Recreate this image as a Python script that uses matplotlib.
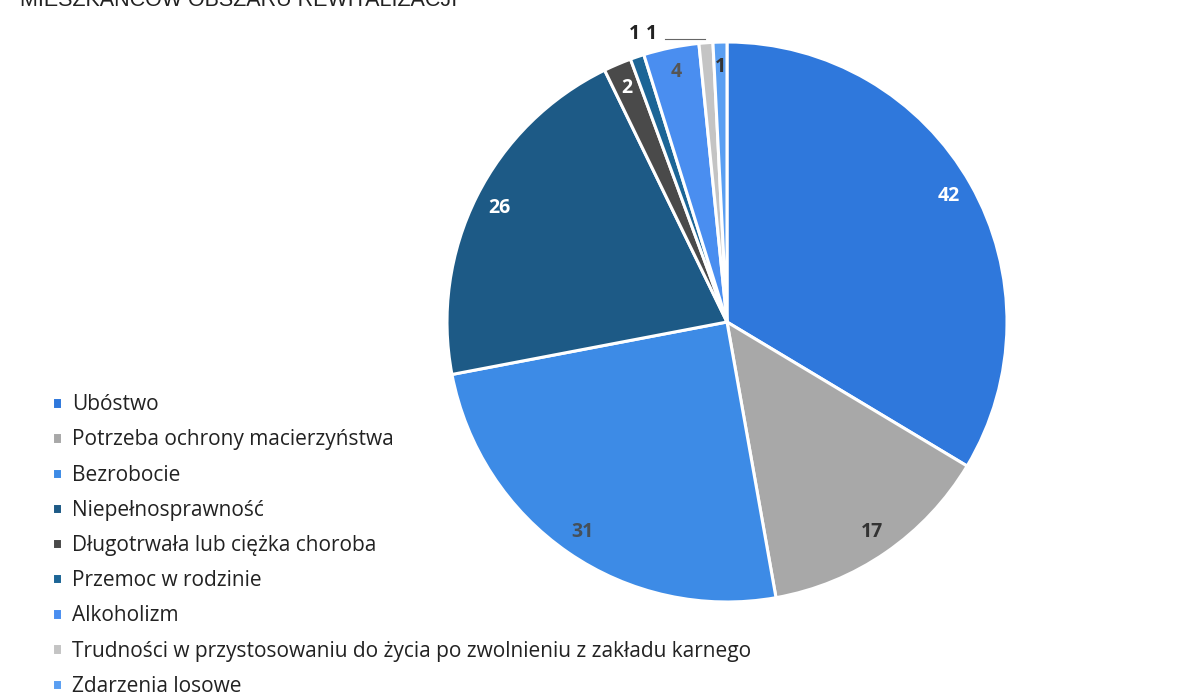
import matplotlib.pyplot as plt
import numpy as np

plt.rcParams['font.family'] = ['Open Sans', 'DejaVu Sans']

labels = ['Ubóstwo', 'Potrzeba ochrony macierzyństwa', 'Bezrobocie',
          'Niepełnosprawność', 'Długotrwała lub ciężka choroba',
          'Przemoc w rodzinie', 'Alkoholizm',
          'Trudności w przystosowaniu do życia po zwolnieniu z zakładu karnego',
          'Zdarzenia losowe']
values = [42, 17, 31, 26, 2, 1, 4, 1, 1]
colors = ['#2f78dc', '#a8a8a8', '#3d8be6', '#1d5a86', '#4a4a4a',
          '#1c6596', '#4a8ef0', '#c4c4c4', '#5a9ff2']
label_colors = ['white', '#333333', '#45505a', 'white', 'white',
                '#222222', '#555555', '#222222', '#333333']

W, H = 1194, 697
fig = plt.figure(figsize=(W / 100, H / 100), dpi=100)

# pie placed by pixel box
cx, cy, r = 727, 322, 280
ax = fig.add_axes([(cx - r) / W, (H - cy - r) / H, 2 * r / W, 2 * r / H])
wedges, _ = ax.pie(values, colors=colors, startangle=90, counterclock=False,
                   radius=1.0,
                   wedgeprops=dict(edgecolor='white', linewidth=2.2))
ax.set_xlim(-1, 1)
ax.set_ylim(-1, 1)
ax.set_aspect('equal')
ax.axis('off')

for i, (w, v) in enumerate(zip(wedges, values)):
    mid = np.deg2rad((w.theta1 + w.theta2) / 2)
    if labels[i] == 'Przemoc w rodzinie':
        x, y = np.cos(mid) * 1.03, 1.03
    elif labels[i].startswith('Trudności'):
        x, y = -0.27, 1.03
        ax.plot([-0.22, -0.08], [1.01, 1.01], color='#666666', lw=0.8,
                clip_on=False)
    else:
        x, y = np.cos(mid) * 0.91, np.sin(mid) * 0.91
    ax.text(x, y, str(v), ha='center', va='center', fontsize=14,
            fontweight='bold', color=label_colors[i], clip_on=False)

fig.legend(wedges, labels, loc='upper left',
           bbox_to_anchor=(44 / W, 1 - 386 / H), frameon=False,
           fontsize=15, handlelength=0.45, handleheight=0.45,
           handletextpad=0.5, labelspacing=0.68, borderaxespad=0,
           labelcolor='#222222')

fig.text(20 / W, 1 - 6 / H, 'MIESZKAŃCÓW OBSZARU REWITALIZACJI',
         fontsize=15.5, color='#222222', va='baseline', ha='left',
         family='Liberation Sans')

fig.savefig('out.png', dpi=100)
